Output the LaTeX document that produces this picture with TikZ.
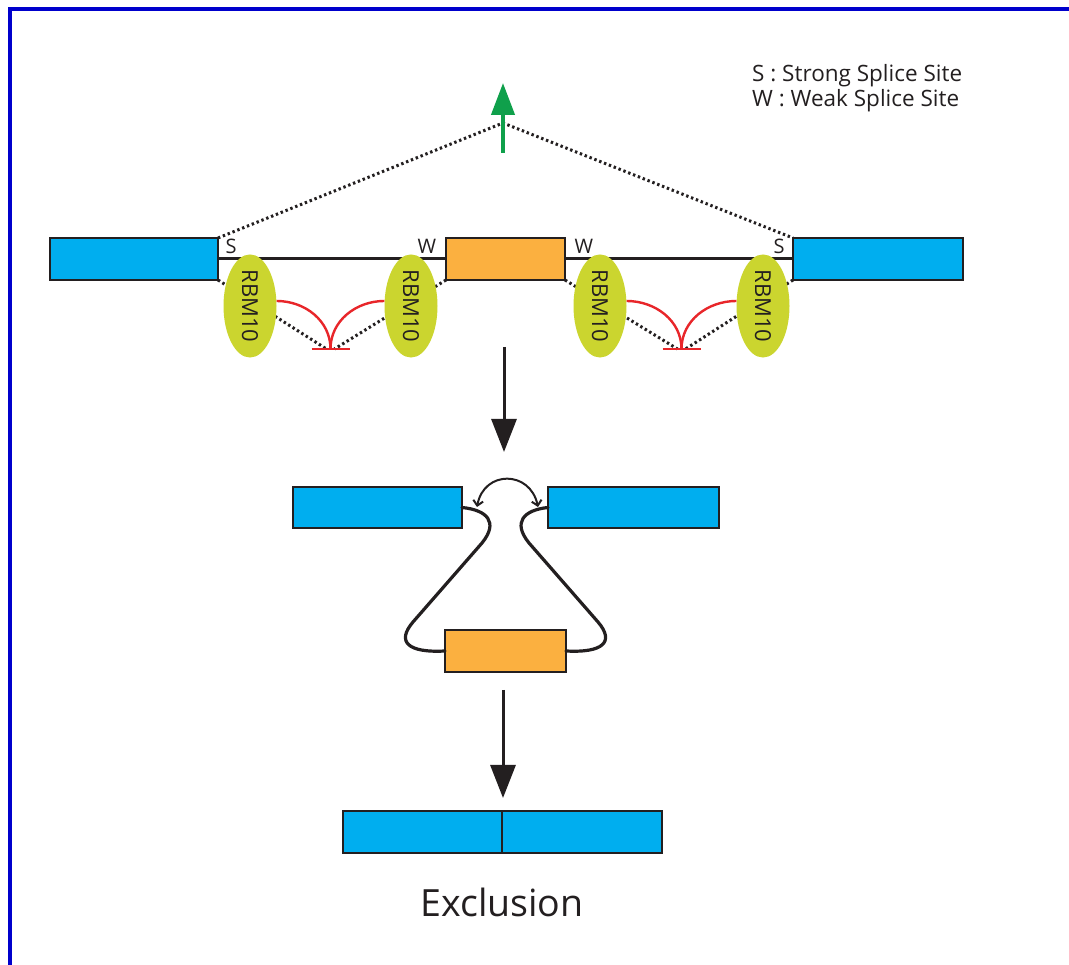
\documentclass[tikz,border=0pt]{standalone}
\usepackage{fontspec}
\setmainfont{Open Sans}
\usetikzlibrary{arrows.meta,shapes.geometric}
\definecolor{exonblue}{HTML}{00AEEF}
\definecolor{intronorange}{HTML}{FBB040}
\definecolor{rbmyellow}{HTML}{CBD52F}
\definecolor{inhred}{HTML}{E8262A}
\definecolor{upgreen}{HTML}{0FA04B}
\definecolor{frameblue}{HTML}{0000CC}
\definecolor{ink}{HTML}{231F20}
\begin{document}
\begin{tikzpicture}[x=1pt,y=1pt,
  exon/.style={draw=ink, line width=1.6, fill=exonblue, minimum height=42, inner sep=0, outer sep=0},
  mid/.style={draw=ink, line width=1.6, fill=intronorange, minimum height=42, inner sep=0, outer sep=0},
  rbm/.style={ellipse, fill=rbmyellow, minimum width=53, minimum height=88, inner sep=0, text=ink, font=\fontsize{22}{24}\selectfont},
  site/.style={text=ink, font=\fontsize{20}{22}\selectfont, inner sep=0},
  dots/.style={ink, line width=3, dash pattern=on 2.4pt off 2.8pt},
  backbone/.style={ink, line width=3},
  inh/.style={inhred, line width=2.4},
  garrow/.style={upgreen, line width=4.2, -{Triangle[width=23,length=32]}},
  bigarrow/.style={ink, line width=3, -{Triangle[width=25,length=33]}},
  dblarrow/.style={ink, line width=2, {Straight Barb[length=5,width=10]}-{Straight Barb[length=5,width=10]}},
  loopline/.style={ink, line width=3.2, line cap=round},
  legend/.style={anchor=base west, text=ink, font=\fontsize{22.5}{26}\selectfont, inner sep=0}
]
\useasboundingbox (0,0) rectangle (1069,965);
\fill[white] (0,0) rectangle (1069,965);
\draw[frameblue, line width=4] (10,0) -- (10,956) -- (1069,956);

% legend
\node[legend] (l1) at (752,883) {S : Strong Splice Site};
\node[legend] (l2) at (752,858) {W : Weak Splice Site};

% top row
\coordinate (apex) at (503,842);
\node[exon, minimum width=168] (e1) at (134,706) {};
\node[mid, minimum width=119] (o1) at (505.5,706) {};
\node[exon, minimum width=170] (e2) at (878,706) {};
\draw[dots] (e1.north east) -- (apex) -- (e2.north west);
\coordinate (g0) at (503,812);
\coordinate (g1) at (503,882);
\draw[garrow] (g0) -- (g1);
\draw[backbone] (e1.east) -- (o1.west);
\draw[backbone] (o1.east) -- (e2.west);

\node[site] (s1) at (231,719) {S};
\node[site] (w1) at (427,719) {W};
\node[site] (w2) at (584,719) {W};
\node[site] (s2) at (779,719) {S};

% inhibition sites
\coordinate (t1) at (330.5,616);
\coordinate (t2) at (681.5,616);
\draw[dots] (e1.south east) -- ([xshift=-4]t1);
\draw[dots] (o1.south west) -- ([xshift=4]t1);
\draw[dots] (o1.south east) -- ([xshift=-4]t2);
\draw[dots] (e2.south west) -- ([xshift=4]t2);

\node[rbm] (r1) at (250,659) {\rotatebox{-90}{RBM10}};
\node[rbm] (r2) at (411,659) {\rotatebox{-90}{RBM10}};
\node[rbm] (r3) at (600,659) {\rotatebox{-90}{RBM10}};
\node[rbm] (r4) at (763,659) {\rotatebox{-90}{RBM10}};

\draw[inh] ([yshift=5]r1.east) to[out=0,in=90] (t1);
\draw[inh] ([yshift=5]r2.west) to[out=180,in=90] (t1);
\draw[inh] ([xshift=-19]t1) -- ([xshift=19]t1);
\draw[inh] ([yshift=5]r3.east) to[out=0,in=90] (t2);
\draw[inh] ([yshift=5]r4.west) to[out=180,in=90] (t2);
\draw[inh] ([xshift=-19]t2) -- ([xshift=19]t2);

% arrow 1
\coordinate (a1s) at (504,618);
\coordinate (a1e) at (504,513);
\draw[bigarrow] (a1s) -- (a1e);

% middle row
\node[exon, minimum width=169, minimum height=41] (m1) at (377.5,457.5) {};
\node[exon, minimum width=171, minimum height=41] (m2) at (633.5,457.5) {};
\node[mid, minimum width=121] (o2) at (505.5,314) {};
\coordinate (d1) at (477,458);
\coordinate (d2) at (538,458);
\draw[dblarrow] (d1) .. controls (484,495) and (530,495) .. (d2);
\draw[loopline] (m1.east) .. controls (487,455) and (499,443) .. (482,422)
  -- (413,343) .. controls (396,323) and (408,312) .. (o2.west);
\draw[loopline] (m2.west) .. controls (524,455) and (512,443) .. (529,422)
  -- (598,343) .. controls (615,323) and (603,312) .. (o2.east);

% arrow 2
\coordinate (a2s) at (503,275);
\coordinate (a2e) at (503,167);
\draw[bigarrow] (a2s) -- (a2e);

% bottom
\node[exon, minimum width=159] (b1) at (422.5,133) {};
\node[exon, minimum width=160] (b2) at (582,133) {};
\node[anchor=base, inner sep=0, text=ink, font=\fontsize{37.5}{42}\selectfont] (ex) at (502,48) {Exclusion};
\end{tikzpicture}
\end{document}
